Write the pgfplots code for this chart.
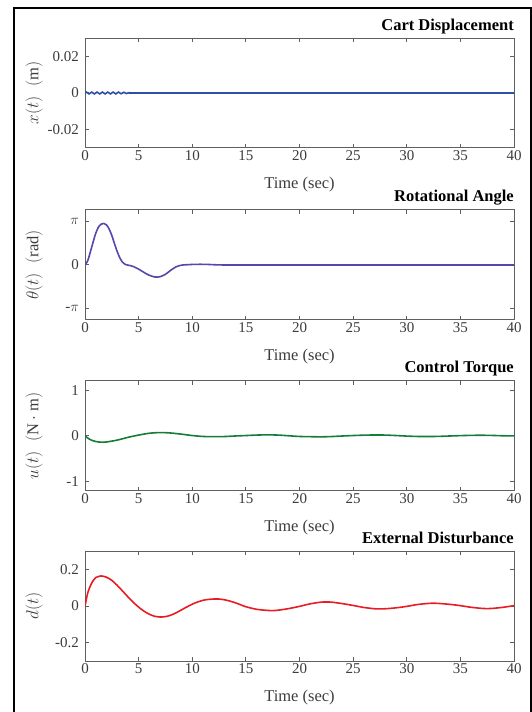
\documentclass[border=0pt]{standalone}
\usepackage{fontspec}
\setmainfont{Liberation Serif}
\usepackage{pgfplots}
\pgfplotsset{compat=1.18}
\definecolor{axgray}{RGB}{95,95,95}
\definecolor{txtgray}{RGB}{60,60,60}
\definecolor{cblue}{RGB}{45,80,165}
\definecolor{cpurple}{RGB}{88,70,168}
\definecolor{cgreen}{RGB}{20,125,55}
\definecolor{cred}{RGB}{232,28,36}
\newcommand{\fsz}{\fontsize{15}{18}\selectfont}
\newcommand{\fszl}{\fontsize{16.5}{19}\selectfont}
\newcommand{\fszt}{\fontsize{16.5}{19}\selectfont}
\pgfplotsset{myax/.style={
  scale only axis, width=429pt, height=110pt, anchor=south west,
  xmin=0, xmax=40, xtick={0,5,...,40},
  /pgf/number format/assume math mode=true,
  scaled ticks=false,
  tick align=inside, major tick length=4.3pt,
  axis line style={draw=axgray, line width=1pt},
  tick style={draw=axgray, line width=1pt},
  tick label style={font=\fsz, text=txtgray},
  xticklabel style={inner sep=1pt, yshift=-1pt},
  yticklabel style={inner sep=1pt, xshift=-5pt},
  xlabel={Time (sec)},
  xlabel style={font=\fszl, text=txtgray, at={(axis description cs:0.5,-0.3727)}, anchor=base},
  ylabel style={font=\fszl, text=txtgray, at={(axis description cs:-0.119,0.5)}, anchor=center},
  title style={font=\fszt\bfseries, text=black, at={(axis description cs:1,1)}, anchor=base east, yshift=2pt, inner sep=0pt},
  every axis plot/.append style={line width=1.6pt, no markers, smooth},
}}
\begin{document}
\begin{tikzpicture}[x=1pt,y=1pt]
\path[use as bounding box] (0,0) rectangle (532,712);
\draw[line width=2pt] (14.3,-10) rectangle (530.5,703.7);

% Cart displacement
\begin{axis}[myax, at={(85pt,564pt)}, ymin=-0.03, ymax=0.03,
  ytick={-0.02,0,0.02}, yticklabels={-0.02,0,0.02},
  ylabel={$x(t)\;\;\mathrm{(m)}$}, title={Cart Displacement}]
\addplot[cblue] coordinates {
(0,0) (0.125,0.0005) (0.25,0) (0.375,-0.0005) (0.5,0) (0.625,0.0005) (0.75,0) (0.875,-0.0005)
(1,0) (1.125,0.0005) (1.25,0) (1.375,-0.0005) (1.5,0) (1.625,0.0005) (1.75,0) (1.875,-0.0005)
(2,0) (2.125,0.0005) (2.25,0) (2.375,-0.0005) (2.5,0) (2.625,0.0005) (2.75,0) (2.875,-0.0005)
(3,0) (3.125,0.0005) (3.25,0) (3.375,-0.0004) (3.5,0) (3.625,0.0004) (3.75,0) (3.875,-0.0003)
(4,0) (4.125,0.0002) (4.25,0) (4.5,0) (10,0) (20,0) (30,0) (40,0)};
\end{axis}

% Rotational angle
\begin{axis}[myax, at={(85pt,392pt)}, ymin=-4, ymax=4,
  ytick={-3.14159,0,3.14159}, yticklabels={-$\pi$,0,$\pi$},
  ylabel={$\theta(t)\;\;\mathrm{(rad)}$}, title={Rotational Angle}]
\addplot[cpurple] coordinates {
(0,0) (0.25,0.3) (0.5,0.95) (0.75,1.65) (1,2.3) (1.25,2.75) (1.5,2.97) (1.75,3.02) (2,2.92)
(2.25,2.62) (2.5,2.15) (2.75,1.55) (3,0.98) (3.25,0.52) (3.5,0.2) (3.75,0.04) (4,-0.01)
(4.25,-0.05) (4.5,-0.11) (5,-0.3) (5.5,-0.54) (6,-0.75) (6.5,-0.87) (6.75,-0.88) (7,-0.85)
(7.5,-0.68) (8,-0.38) (8.5,-0.13) (9,-0.01) (9.5,0.02) (10,0.04) (10.5,0.05) (11,0.05)
(11.5,0.04) (12,0.02) (13,0) (14,0) (20,0) (30,0) (40,0)};
\end{axis}

% Control torque
\begin{axis}[myax, at={(85pt,221pt)}, ymin=-1.2, ymax=1.2,
  ytick={-1,0,1}, yticklabels={-1,0,1},
  ylabel={$u(t)\;\;\mathrm{(N\cdot m)}$}, title={Control Torque}]
\addplot[cgreen] coordinates {
(0,0) (0.5,-0.08) (1,-0.12) (1.5,-0.135) (2,-0.13) (3,-0.09) (4,-0.03) (5,0.02) (6,0.06)
(7,0.075) (8,0.065) (9,0.04) (10,0.01) (11,-0.01) (12,-0.015) (13,-0.012) (14,0) (15,0.01)
(16,0.02) (17,0.025) (18,0.02) (19,0.005) (20,-0.01) (21,-0.015) (22,-0.018) (23,-0.012)
(24,0) (25,0.01) (26,0.018) (27,0.022) (28,0.02) (29,0.01) (30,-0.002) (31,-0.01) (32,-0.012)
(33,-0.008) (34,0) (35,0.008) (36,0.014) (37,0.016) (38,0.012) (39,0.005) (40,0.003)};
\end{axis}

% External disturbance
\begin{axis}[myax, at={(85pt,51pt)}, ymin=-0.3, ymax=0.3,
  ytick={-0.2,0,0.2}, yticklabels={-0.2,0,0.2},
  ylabel={$d(t)$}, title={External Disturbance}]
\addplot[cred] coordinates {
(0,0) (0.25,0.07) (0.5,0.11) (0.75,0.138) (1,0.155) (1.5,0.164) (2,0.157) (2.5,0.14) (3,0.113)
(3.5,0.082) (4,0.05) (4.5,0.02) (5,-0.006) (5.5,-0.028) (6,-0.045) (6.5,-0.056) (7,-0.06)
(7.5,-0.058) (8,-0.05) (8.5,-0.037) (9,-0.021) (9.5,-0.005) (10,0.01) (10.5,0.022) (11,0.031)
(11.5,0.036) (12,0.038) (12.5,0.038) (13,0.034) (13.5,0.027) (14,0.018) (14.5,0.007) (15,-0.004)
(16,-0.018) (17,-0.024) (17.5,-0.025) (18,-0.023) (19,-0.014) (20,-0.002) (21,0.012) (22,0.021)
(22.5,0.022) (23,0.021) (24,0.013) (25,0.003) (26,-0.008) (27,-0.015) (27.5,-0.016) (28,-0.015)
(29,-0.01) (30,-0.002) (31,0.008) (32,0.014) (32.5,0.015) (33,0.014) (34,0.009) (35,0.002)
(36,-0.007) (37,-0.013) (37.5,-0.014) (38,-0.013) (39,-0.007) (40,0.002)};
\end{axis}
\end{tikzpicture}
\end{document}
